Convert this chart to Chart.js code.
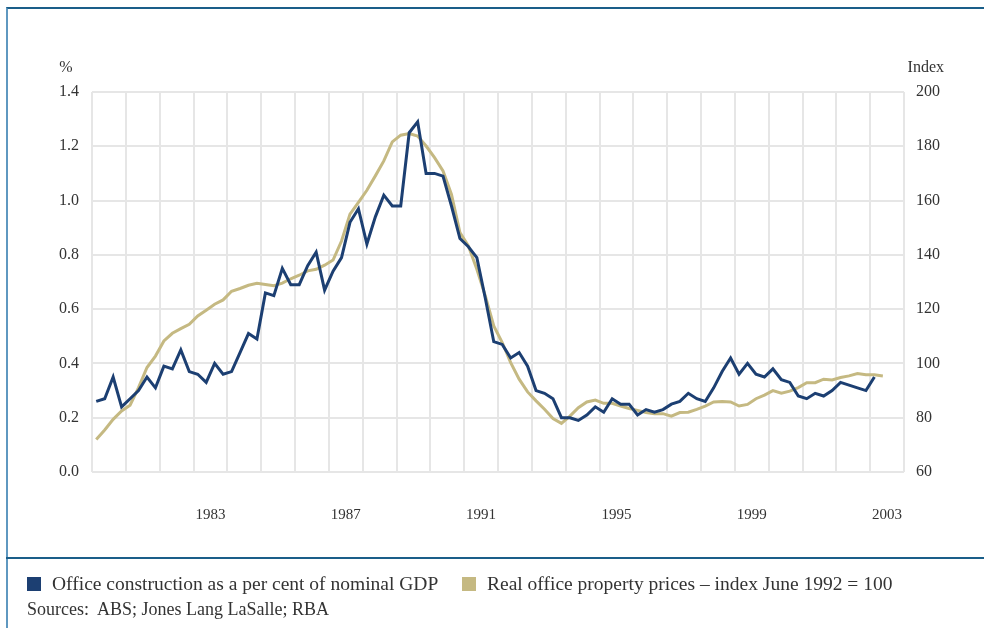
<!DOCTYPE html>
<html>
<head>
<meta charset="utf-8">
<script src="https://cdn.jsdelivr.net/npm/chart.js@4"></script>
<style>
  body { margin: 0; background: #fff; font-family: "Liberation Serif", serif; color: #333; }
  #wrap { position: relative; width: 984px; height: 628px; overflow: hidden; }
  canvas { position: absolute; left: 0; top: 0; }
  .frame { position: absolute; left: 6px; top: 7px; width: 978px; height: 621px;
           border-top: 2px solid #1a5e89; border-left: 2px solid #5f98c0; box-sizing: border-box; pointer-events: none; }
  .sep { position: absolute; left: 6px; top: 557px; width: 978px; height: 2px; background: #1a5e89; }
  .legend-item { position: absolute; top: 574px; font-size: 19.5px; line-height: 20px; white-space: nowrap; }
  .legend-item span { display: inline-block; width: 14px; height: 14px; margin-right: 11px; vertical-align: -1px; }
  .sources { position: absolute; left: 27px; top: 599px; font-size: 18px; line-height: 20px; }
</style>
</head>
<body>
<div id="wrap">
  <canvas id="chart" width="984" height="556"></canvas>
  <div class="frame"></div>
  <div class="sep"></div>
  <div class="legend-item" style="left:27px"><span style="background:#1c3f72"></span>Office construction as a per cent of nominal GDP</div>
  <div class="legend-item" style="left:462px"><span style="background:#c5b982"></span>Real office property prices – index June 1992 = 100</div>
  <div class="sources">Sources:&nbsp; ABS; Jones Lang LaSalle; RBA</div>
</div>
<script>
// quarterly data, first point is March quarter 1980
const startYear = 1980;
const officeConstruction = [
  0.26, 0.27, 0.35, 0.24, 0.27, 0.30, 0.35, 0.31, 0.39, 0.38,
  0.45, 0.37, 0.36, 0.33, 0.40, 0.36, 0.37, 0.44, 0.51, 0.49,
  0.66, 0.65, 0.75, 0.69, 0.69, 0.76, 0.81, 0.67, 0.74, 0.79,
  0.92, 0.97, 0.84, 0.94, 1.02, 0.98, 0.98, 1.25, 1.29, 1.10,
  1.10, 1.09, 0.98, 0.86, 0.83, 0.79, 0.64, 0.48, 0.47, 0.42,
  0.44, 0.39, 0.30, 0.29, 0.27, 0.20, 0.20, 0.19, 0.21, 0.24,
  0.22, 0.27, 0.25, 0.25, 0.21, 0.23, 0.22, 0.23, 0.25, 0.26,
  0.29, 0.27, 0.26, 0.31, 0.37, 0.42, 0.36, 0.40, 0.36, 0.35,
  0.38, 0.34, 0.33, 0.28, 0.27, 0.29, 0.28, 0.30, 0.33, 0.32,
  0.31, 0.30, 0.35
];
const officePrices = [
  72.0, 75.5, 79.4, 82.5, 84.6, 91.1, 98.5, 102.7, 108.3, 111.1,
  112.8, 114.4, 117.5, 119.6, 121.8, 123.4, 126.6, 127.6, 128.8, 129.5,
  129.1, 128.6, 129.6, 131.2, 132.5, 134.1, 134.7, 136.2, 138.1, 145.1,
  155.0, 159.3, 163.8, 169.1, 174.6, 181.6, 184.1, 184.7, 183.8, 180.1,
  175.8, 170.9, 162.3, 148.2, 143.3, 134.7, 124.9, 113.8, 107.7, 100.3,
  94.2, 89.5, 86.2, 83.1, 79.7, 77.9, 80.6, 83.7, 85.8, 86.5,
  85.3, 85.3, 84.3, 83.4, 82.7, 81.9, 81.5, 81.5, 80.6, 81.9,
  82.0, 83.1, 84.3, 85.8, 86.0, 85.8, 84.3, 84.9, 87.0, 88.3,
  90.0, 89.0, 89.8, 91.1, 92.9, 92.9, 94.2, 93.9, 94.8, 95.4,
  96.3, 95.8, 95.8, 95.4
];
const yearLabels = [1983, 1987, 1991, 1995, 1999, 2003];
const leftTicks = [0, 0.2, 0.4, 0.6, 0.8, 1.0, 1.2, 1.4];
const rightTicks = [60, 80, 100, 120, 140, 160, 180, 200];

// place each quarter in the middle of its quarter
function toPoints(values) {
  return values.map((v, i) => ({ x: startYear + (i + 0.5) / 4, y: v }));
}

const font = { family: '"Liberation Serif", serif', size: 16 };
const gridColor = '#e6e6e6';

// "%" and "Index" above the value axes
const axisUnits = {
  id: 'axisUnits',
  afterDraw(chart) {
    const ctx = chart.ctx, area = chart.chartArea;
    ctx.save();
    ctx.font = '16px "Liberation Serif", serif';
    ctx.fillStyle = '#333';
    ctx.textBaseline = 'middle';
    ctx.textAlign = 'center';
    ctx.fillText('%', area.left - 26, area.top - 24);
    ctx.textAlign = 'right';
    ctx.fillText('Index', area.right + 40, area.top - 24);
    ctx.restore();
  }
};

new Chart(document.getElementById('chart'), {
  type: 'line',
  data: {
    datasets: [{
      label: 'Office construction as a per cent of nominal GDP',
      data: toPoints(officeConstruction),
      borderColor: '#1c3f72',
      borderWidth: 3,
      pointRadius: 0,
      tension: 0,
      yAxisID: 'y',
      xAxisID: 'x'
    }, {
      label: 'Real office property prices – index June 1992 = 100',
      data: toPoints(officePrices),
      borderColor: '#c5b982',
      borderWidth: 3,
      pointRadius: 0,
      tension: 0,
      yAxisID: 'y1',
      xAxisID: 'x'
    }]
  },
  options: {
    responsive: false,
    animation: false,
    layout: { padding: { top: 92, left: 0, right: 0, bottom: 0 } },
    plugins: { legend: { display: false }, tooltip: { enabled: false } },
    scales: {
      x: {
        type: 'linear', position: 'bottom', min: 1980, max: 2004,
        ticks: { display: false, stepSize: 1 },
        grid: { color: gridColor, lineWidth: 2, drawTicks: false },
        border: { display: false },
        afterFit(s) { s.height = 0; }
      },
      xYears: {
        type: 'linear', position: 'bottom', min: 1980, max: 2004,
        grid: { display: false },
        border: { display: false },
        afterBuildTicks(s) { s.ticks = yearLabels.map(y => ({ value: y + 0.5 })); },
        ticks: {
          autoSkip: false, maxRotation: 0, padding: 26, color: '#333', font: { family: font.family, size: 15 },
          callback: (v, i) => String(yearLabels[i])
        },
        afterFit(s) { s.height = 84; }
      },
      y: {
        position: 'left', min: 0, max: 1.4,
        afterBuildTicks(s) { s.ticks = leftTicks.map(v => ({ value: v })); },
        ticks: { padding: 13, color: '#333', font: font, callback: v => v.toFixed(1) },
        grid: { color: gridColor, lineWidth: 2, drawTicks: false },
        border: { display: false },
        afterFit(s) { s.width = 92; }
      },
      y1: {
        position: 'right', min: 60, max: 200,
        afterBuildTicks(s) { s.ticks = rightTicks.map(v => ({ value: v })); },
        ticks: { padding: 12, color: '#333', font: font },
        grid: { drawOnChartArea: false, drawTicks: false },
        border: { display: false },
        afterFit(s) { s.width = 80; }
      }
    }
  },
  plugins: [axisUnits]
});
</script>
</body>
</html>
